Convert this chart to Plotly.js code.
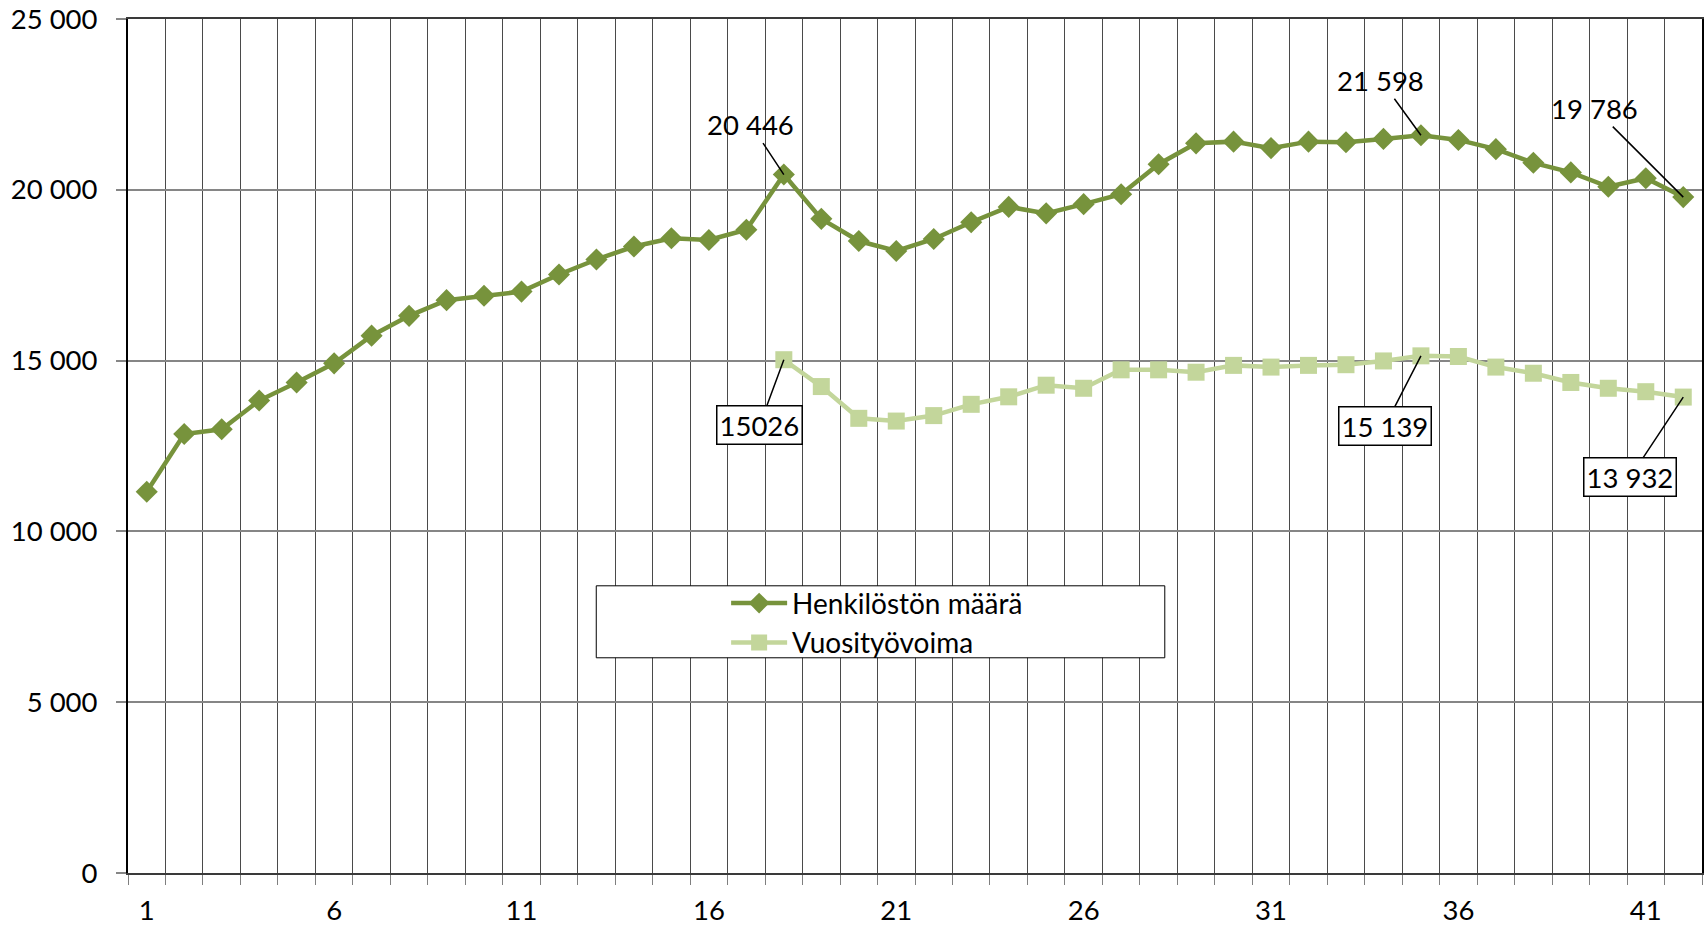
<!DOCTYPE html>
<html>
<head>
<meta charset="utf-8">
<script src="https://cdn.plot.ly/plotly-3.0.1.min.js"></script>
<style>html,body{margin:0;padding:0;background:#fff;}#chart{width:1706px;height:929px;}</style>
</head>
<body>
<div id="chart"></div>
<script>
const categories = [1,2,3,4,5,6,7,8,9,10,11,12,13,14,15,16,17,18,19,20,21,22,23,24,25,26,27,28,29,30,31,32,33,34,35,36,37,38,39,40,41,42];
const tickLabels = [1,6,11,16,21,26,31,36,41];
const henkilosto = [11160,12850,12990,13830,14360,14920,15730,16310,16770,16900,17020,17520,17960,18340,18580,18530,18830,20446,19150,18500,18210,18560,19050,19500,19310,19580,19870,20750,21360,21410,21220,21410,21390,21490,21598,21460,21190,20790,20510,20090,20340,19786];
const vuosityovoima = [null,null,null,null,null,null,null,null,null,null,null,null,null,null,null,null,null,15026,14240,13310,13230,13390,13720,13940,14280,14190,14730,14730,14660,14860,14810,14860,14880,14990,15139,15120,14810,14630,14360,14190,14090,13932];
const seriesNames = ['Henkilöstön määrä','Vuosityövoima'];
const labelTexts = ['20 446','21 598','19 786','15026','15 139','13 932'];

const FONT = 'Lato, "Noto Sans", sans-serif';
const fs = 27.5;

const traces = [
  {x: categories, y: henkilosto, name: seriesNames[0], type: 'scatter', mode: 'lines+markers',
   line: {color: '#77933C', width: 4.5}, marker: {symbol: 'diamond', size: 17, color: '#77933C'}},
  {x: categories, y: vuosityovoima, name: seriesNames[1], type: 'scatter', mode: 'lines+markers',
   line: {color: '#C3D69B', width: 4.5}, marker: {symbol: 'square', size: 17, color: '#C3D69B'}}
];

const bounds = categories.map(c => c - 0.5).concat([categories[categories.length-1] + 0.5]);

function ann(serie, idx, text, ax, ay, boxed) {
  return {x: categories[idx], y: serie[idx], xref: 'x', yref: 'y', text: text,
    showarrow: true, arrowhead: 0, arrowwidth: 1.5, arrowcolor: '#000', standoff: 0,
    ax: ax, ay: ay, font: {family: FONT, size: fs, color: '#000'},
    bordercolor: boxed ? '#000' : 'rgba(0,0,0,0)', borderwidth: boxed ? 1.5 : 0,
    borderpad: 2, bgcolor: boxed ? '#fff' : 'rgba(0,0,0,0)'};
}

const annotations = [
  ann(henkilosto, 17, labelTexts[0], -33, -50, false),
  ann(henkilosto, 34, labelTexts[1], -40, -55, false),
  ann(henkilosto, 41, labelTexts[2], -89, -89, false),
  ann(vuosityovoima, 17, labelTexts[3], -24, 65, true),
  ann(vuosityovoima, 34, labelTexts[4], -36, 70, true),
  ann(vuosityovoima, 41, labelTexts[5], -53, 80, true)
];

const layout = {
  width: 1706, height: 929,
  margin: {l: 128, r: 4, t: 19, b: 56},
  paper_bgcolor: '#fff', plot_bgcolor: '#fff',
  separators: ', ',
  font: {family: FONT, size: fs, color: '#000'},
  showlegend: true,
  legend: {x: 0.38, xanchor: 'left', y: 0.345, yanchor: 'top', bgcolor: 'rgba(0,0,0,0)',
           borderwidth: 0, font: {family: FONT, size: 28, color: '#000'}, tracegroupgap: 0,
           itemwidth: 56},
  xaxis: {range: [0.5, 42.5], tickvals: tickLabels, ticktext: tickLabels.map(String),
          ticks: '', showgrid: false, zeroline: false, ticklabelstandoff: 12,
          showline: true, linecolor: '#3a3a3a', linewidth: 2, mirror: true,
          minor: {tickvals: bounds, showgrid: true, gridcolor: '#4a4a4a', gridwidth: 1,
                  ticks: 'outside', ticklen: 10, tickcolor: '#7f7f7f', tickwidth: 1},
          tickfont: {family: FONT, size: fs, color: '#000'}},
  yaxis: {range: [0, 25000], dtick: 5000, tick0: 0, tickformat: ',d',
          showgrid: true, gridcolor: '#868686', gridwidth: 2, zeroline: false,
          ticks: 'outside', ticklen: 10, tickcolor: '#868686', tickwidth: 2,
          showline: true, linecolor: '#000', linewidth: 2, mirror: true,
          ticklabelstandoff: 13,
          tickfont: {family: FONT, size: fs, color: '#000'}},
  shapes: [{type: 'rect', xref: 'paper', yref: 'paper', x0: 0.2975, x1: 0.6587, y0: 0.2520, y1: 0.3363,
            line: {color: '#000', width: 1}, fillcolor: '#fff', layer: 'above'}],
  annotations: annotations
};

Plotly.newPlot('chart', traces, layout, {staticPlot: true, displayModeBar: false});
</script>
</body>
</html>
